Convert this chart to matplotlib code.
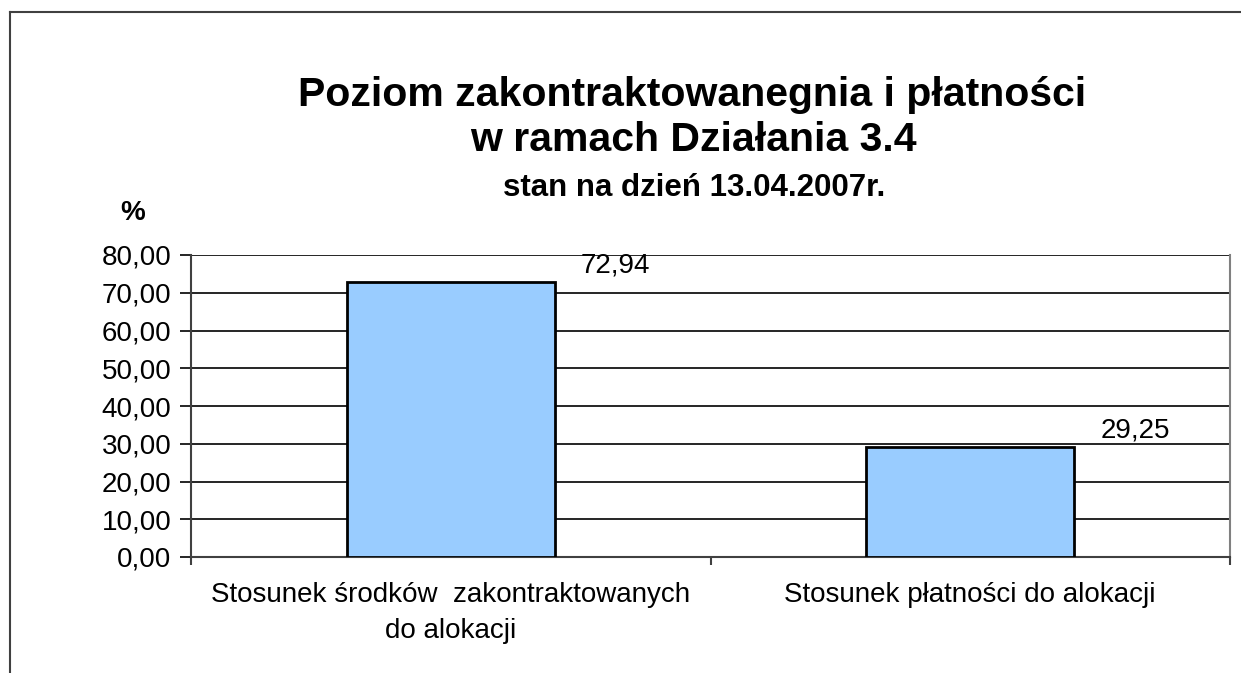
import matplotlib
matplotlib.use('Agg')
import matplotlib.pyplot as plt
import matplotlib.ticker as mtick
from matplotlib.lines import Line2D

categories = ['Stosunek środków  zakontraktowanych\ndo alokacji',
              'Stosunek płatności do alokacji']
values = [72.94, 29.25]
yticks = [0, 10, 20, 30, 40, 50, 60, 70, 80]

plt.rcParams['font.family'] = ['Liberation Sans', 'DejaVu Sans']

W, H = 1241, 673
fig = plt.figure(figsize=(W / 100, H / 100), dpi=100)
ax = fig.add_axes([191 / W, 1 - 557 / H, (1230 - 191) / W, (557 - 255) / H])

x = list(range(len(categories)))
ax.bar(x, values, width=0.4, color='#99CCFF', edgecolor='black', linewidth=2, zorder=3)
ax.set_xlim(-0.5, len(categories) - 0.5)
ax.set_ylim(0, 80)
ax.set_yticks(yticks)
ax.yaxis.set_major_formatter(mtick.FuncFormatter(lambda v, p: f'{v:.2f}'.replace('.', ',')))
ax.grid(axis='y', color='black', linewidth=1.2, zorder=0)

ax.set_xticks([-0.5, 0.5, 1.5], minor=False)
ax.set_xticklabels(['', '', ''])
ax.tick_params(axis='x', length=6, width=1.5, color='#404040')
ax.set_xticks(x, minor=True)
ax.set_xticklabels(categories, minor=True, fontsize=20, linespacing=1.5)
ax.tick_params(axis='x', which='minor', length=0, pad=18)
ax.tick_params(axis='y', length=8, width=1.2, labelsize=20, pad=6)

for s in ['left', 'bottom']:
    ax.spines[s].set_linewidth(1.5)
    ax.spines[s].set_color('#404040')
ax.spines['top'].set_visible(False)
ax.spines['right'].set_color('#808080')
ax.spines['right'].set_linewidth(1.5)

for xi, v in zip(x, values):
    ax.annotate(f'{v:.2f}'.replace('.', ','), xy=(xi + 0.2, v), xytext=(26, 9),
                textcoords='offset pixels', ha='left', va='baseline', fontsize=20)

fig.text(692 / W, 1 - 95 / H, 'Poziom zakontraktowanegnia i płatności',
         ha='center', va='center', fontsize=29.5, fontweight='bold')
fig.text(693 / W, 1 - 140 / H, 'w ramach Działania 3.4',
         ha='center', va='center', fontsize=29.5, fontweight='bold')
fig.text(694 / W, 1 - 188 / H, 'stan na dzień 13.04.2007r.',
         ha='center', va='center', fontsize=22.5, fontweight='bold')
fig.text(133 / W, 1 - 213 / H, '%', ha='center', va='center', fontsize=20, fontweight='bold')

fig.add_artist(Line2D([10 / W, 1], [1 - 12 / H, 1 - 12 / H], color='#404040', linewidth=1.5))
fig.add_artist(Line2D([10 / W, 10 / W], [1 - 12 / H, 0], color='#404040', linewidth=1.5))

fig.savefig('out.png', dpi=100)
